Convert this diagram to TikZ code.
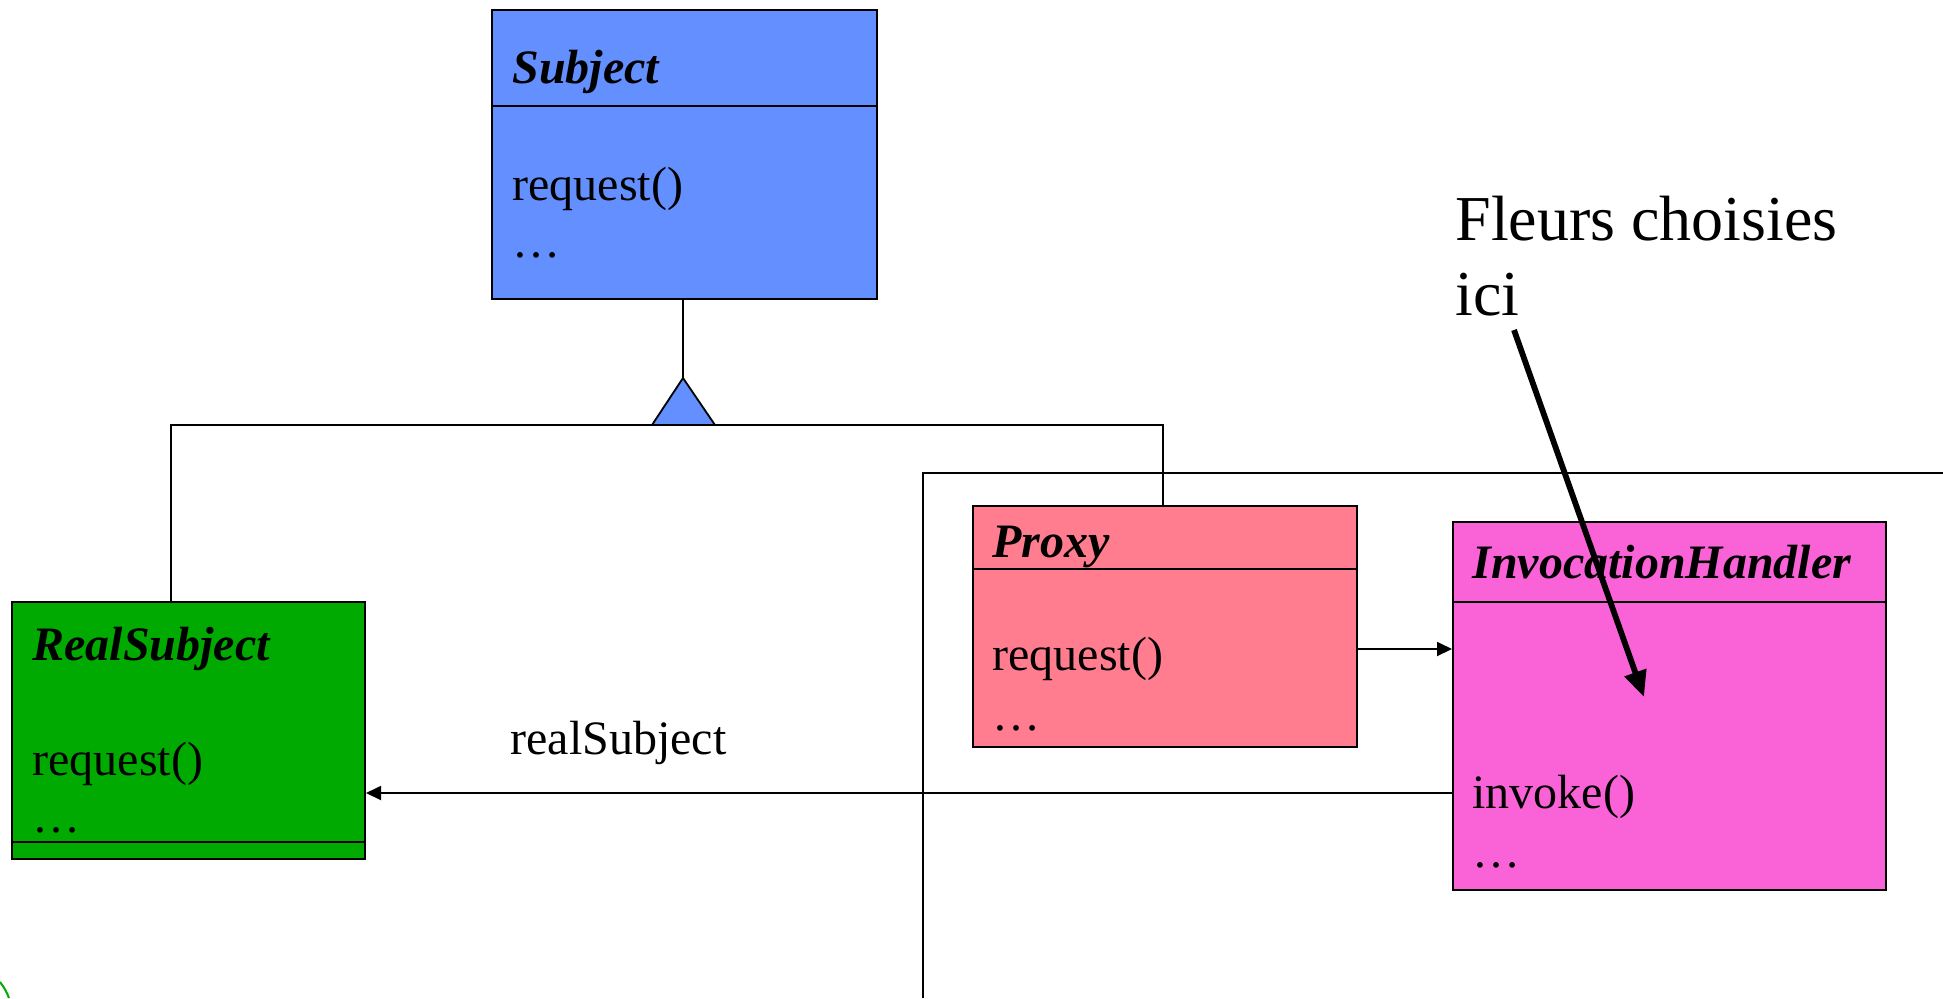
\documentclass[tikz,border=0pt]{standalone}
\usepackage{fontspec}
\setmainfont{Liberation Serif}
\usetikzlibrary{arrows.meta,calc}
\definecolor{subjblue}{RGB}{99,143,255}
\definecolor{realgreen}{RGB}{0,170,0}
\definecolor{proxyred}{RGB}{255,125,143}
\definecolor{handlerpink}{RGB}{250,99,216}
% horizontal rule across a class box at height #2
\newcommand\sepline[2]{\draw[line width=1pt] (#1.west |- 0,#2) -- (#1.east |- 0,#2);}

\tikzset{
	classbox/.style={draw, line width=1pt, inner sep=0pt, anchor=north west},
	member/.style={anchor=base west, inner sep=0pt, font=\fontsize{24}{28}\selectfont},
	clsname/.style={member, font=\fontsize{24}{28}\selectfont\bfseries\itshape},
	link/.style={line width=0.9pt},
	call/.style={link, -{Triangle[length=7.5pt,width=7pt]}},
}

\begin{document}
\begin{tikzpicture}[x=0.5pt, y=-0.5pt]
			%%%%% START %%%%%
			\useasboundingbox (0,0) rectangle (1943,998);
			
			% dynamic proxy frame
			\draw[line width=1.2pt] (923,998) -- (923,473) -- (1943,473);
			\draw[realgreen, line width=1pt] (0,982) to[bend left=8] (9,998);
			
			% Subject
			\node[classbox, fill=subjblue, minimum width=192.5pt, minimum height=144.5pt] (subj) at (491,9) {};
			\sepline{subj}{106}
			\node[clsname] (subjname) at (512,83) {Subject};
			\node[member] (subjreq) at (512,200) {request()};
			\node[member] (subjmore) at (512,257) {…};
			
			% RealSubject
			\node[classbox, fill=realgreen, minimum width=176.5pt, minimum height=128.5pt] (rsub) at (11,601) {};
			\sepline{rsub}{842}
			\node[clsname] (rsubname) at (32,660) {RealSubject};
			\node[member] (rsubreq) at (32,775) {request()};
			\node[member] (rsubmore) at (32,832) {…};
			
			% Proxy
			\node[classbox, fill=proxyred, minimum width=192pt, minimum height=120.5pt] (proxy) at (972,505) {};
			\sepline{proxy}{569}
			\node[clsname] (proxyname) at (992,557) {Proxy};
			\node[member] (proxyreq) at (992,670) {request()};
			\node[member] (proxymore) at (992,730) {…};
			
			% InvocationHandler
			\node[classbox, fill=handlerpink, minimum width=216.5pt, minimum height=184pt] (ih) at (1452,521) {};
			\sepline{ih}{602}
			\node[clsname] (ihname) at (1472,578) {InvocationHandler};
			\node[member] (ihinv) at (1472,808) {invoke()};
			\node[member] (ihmore) at (1472,867) {…};
			
			% inheritance
			\coordinate (apex) at (683,378);
			\coordinate (hl) at (171,425);
			\coordinate (hr) at (1163,425);
			\draw[link] (apex |- subj.south) -- (apex);
			\draw[link] (hl |- rsub.north) -- (hl) -- (hr) -- (hr |- proxy.north);
			\draw[link, fill=subjblue] (apex) -- (715,425) -- (652,425) -- cycle;
			
			% calls
			\draw[call] (proxy.east |- 0,649) -- (ih.west |- 0,649);
			\draw[call] (ih.west |- 0,793) -- (rsub.east |- 0,793);
			\node[member] (rsublabel) at (510,754) {realSubject};
			
			% note (base is the last line)
			\node[anchor=base west, inner sep=0pt, align=left, font=\fontsize{32}{37.5}\selectfont] (note) at (1455,315) {Fleurs choisies\\ici};
			\coordinate (tail) at (1514,330);
			\coordinate (tip) at (1644,697);
			\draw[line width=2.9pt, -{Triangle[length=13pt,width=11pt]}] (tail) -- (tip);
			
			%%%%% END %%%%%
		\end{tikzpicture}
\end{document}
